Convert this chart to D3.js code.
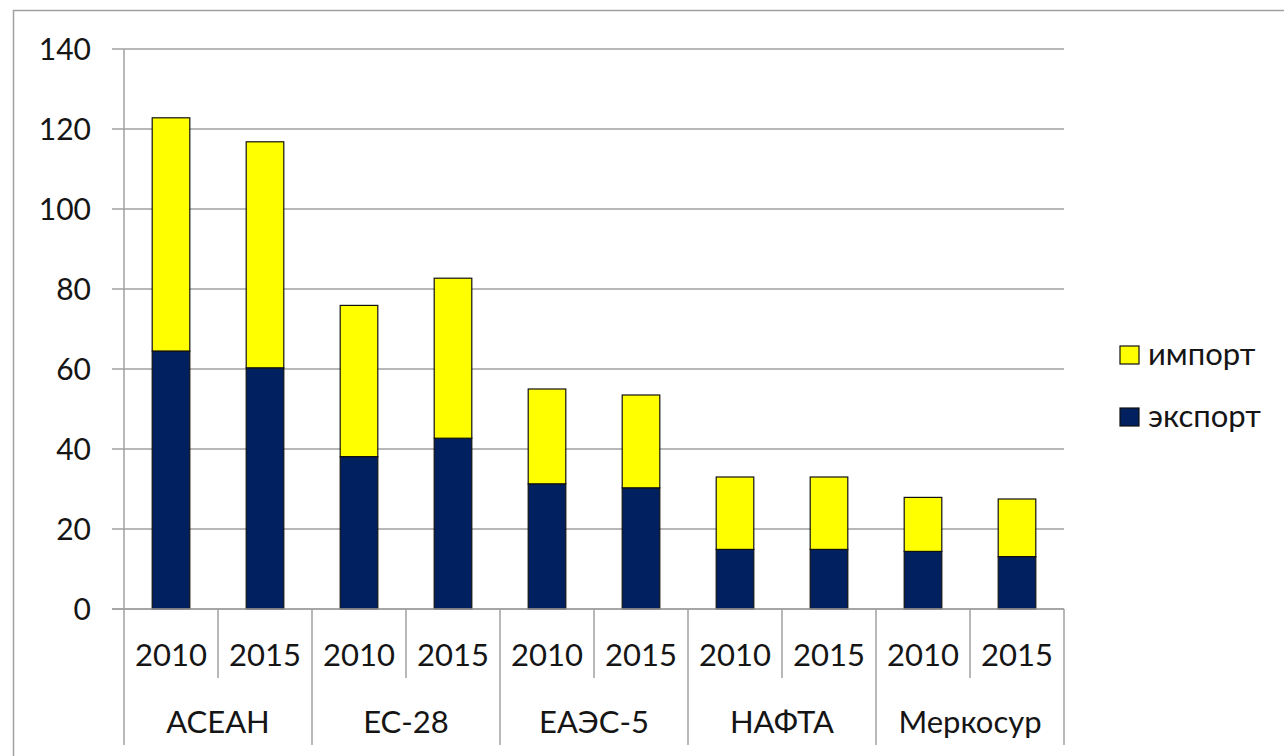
<!DOCTYPE html>
<html><head><meta charset="utf-8">
<script src="https://cdn.jsdelivr.net/npm/d3@7"></script>
<style>
html,body{margin:0;padding:0;background:#fff;}
svg text{font-family:Lato,"Open Sans",sans-serif;fill:#151515;}
</style></head>
<body><svg id="c" width="1284" height="756"></svg>
<script>
const groups = ["АСЕАН","ЕС-28","ЕАЭС-5","НАФТА","Меркосур"];
const years = ["2010","2015"];
const exportVals = [64.5, 60.3, 38.1, 42.7, 31.3, 30.3, 14.9, 14.9, 14.4, 13.1];
const importVals = [58.3, 56.5, 37.8, 40.0, 23.7, 23.2, 18.1, 18.1, 13.5, 14.4];
const seriesNames = ["экспорт","импорт"];
const seriesColors = ["#002060","#ffff00"];
const yTicks = [0,20,40,60,80,100,120,140];

const svg = d3.select("#c");
const L = 124, R = 1064, T = 49, B = 609;

// frame
svg.append("rect").attr("x",13.5).attr("y",10.5).attr("width",1400).attr("height",800)
  .attr("fill","none").attr("stroke","#a0a0a0").attr("stroke-width",1.5);

const items = [];
groups.forEach((g,gi)=>years.forEach((yr,yi)=>items.push({g, yr, key:g+"|"+yr, i:gi*2+yi})));

const x = d3.scaleBand().domain(items.map(d=>d.key)).range([L,R]).paddingInner(0.6).paddingOuter(0.3);
const y = d3.scaleLinear().domain([0,140]).range([B,T]);

// gridlines + y labels
const gy = svg.append("g");
gy.selectAll("line").data(yTicks).join("line")
  .attr("x1",112).attr("x2",R).attr("y1",d=>y(d)).attr("y2",d=>y(d))
  .attr("stroke","#a0a0a0").attr("stroke-width",1.5);
gy.selectAll("text").data(yTicks).join("text")
  .attr("x",91).attr("y",d=>y(d)).attr("dy","0.36em").attr("text-anchor","end")
  .attr("font-size",30).text(d=>d);

// stacked data
const stackData = items.map((d,i)=>({key:d.key, "экспорт":exportVals[i], "импорт":importVals[i]}));
const stacked = d3.stack().keys(seriesNames)(stackData);
svg.append("g").selectAll("g").data(stacked).join("g")
  .attr("fill",(d,i)=>seriesColors[i])
  .selectAll("rect").data(d=>d).join("rect")
  .attr("x",d=>x(d.data.key)).attr("width",x.bandwidth())
  .attr("y",d=>y(d[1])).attr("height",d=>y(d[0])-y(d[1]))
  .attr("stroke","#111").attr("stroke-width",1.2);

// axes lines
const ax = svg.append("g").attr("stroke","#a0a0a0").attr("stroke-width",1.5);
ax.append("line").attr("x1",L).attr("x2",L).attr("y1",T).attr("y2",745);
ax.append("line").attr("x1",112).attr("x2",R).attr("y1",B).attr("y2",B);
const step = x.step();
for(let k=1;k<=items.length;k++){
  const xx = L + step*k;
  const isGroup = k%2===0;
  ax.append("line").attr("x1",xx).attr("x2",xx).attr("y1",B).attr("y2",isGroup?745:678);
}
// year labels
svg.append("g").selectAll("text").data(items).join("text")
  .attr("x",d=>x(d.key)+x.bandwidth()/2).attr("y",655).attr("dy","0.36em")
  .attr("text-anchor","middle").attr("font-size",31).text(d=>d.yr);
// group labels
svg.append("g").selectAll("text").data(groups).join("text")
  .attr("x",(d,i)=>L+step*(2*i+1)).attr("y",722).attr("dy","0.36em")
  .attr("text-anchor","middle").attr("font-size",31).text(d=>d);

// legend
const leg = [{n:"импорт",c:seriesColors[1],y:355},{n:"экспорт",c:seriesColors[0],y:417}];
const lg = svg.append("g");
lg.selectAll("rect").data(leg).join("rect")
  .attr("x",1120).attr("y",d=>d.y-9).attr("width",19).attr("height",18)
  .attr("fill",d=>d.c).attr("stroke","#111").attr("stroke-width",1.2);
lg.selectAll("text").data(leg).join("text")
  .attr("x",1148).attr("y",d=>d.y).attr("dy","0.32em").attr("font-size",31).text(d=>d.n);
</script></body></html>
